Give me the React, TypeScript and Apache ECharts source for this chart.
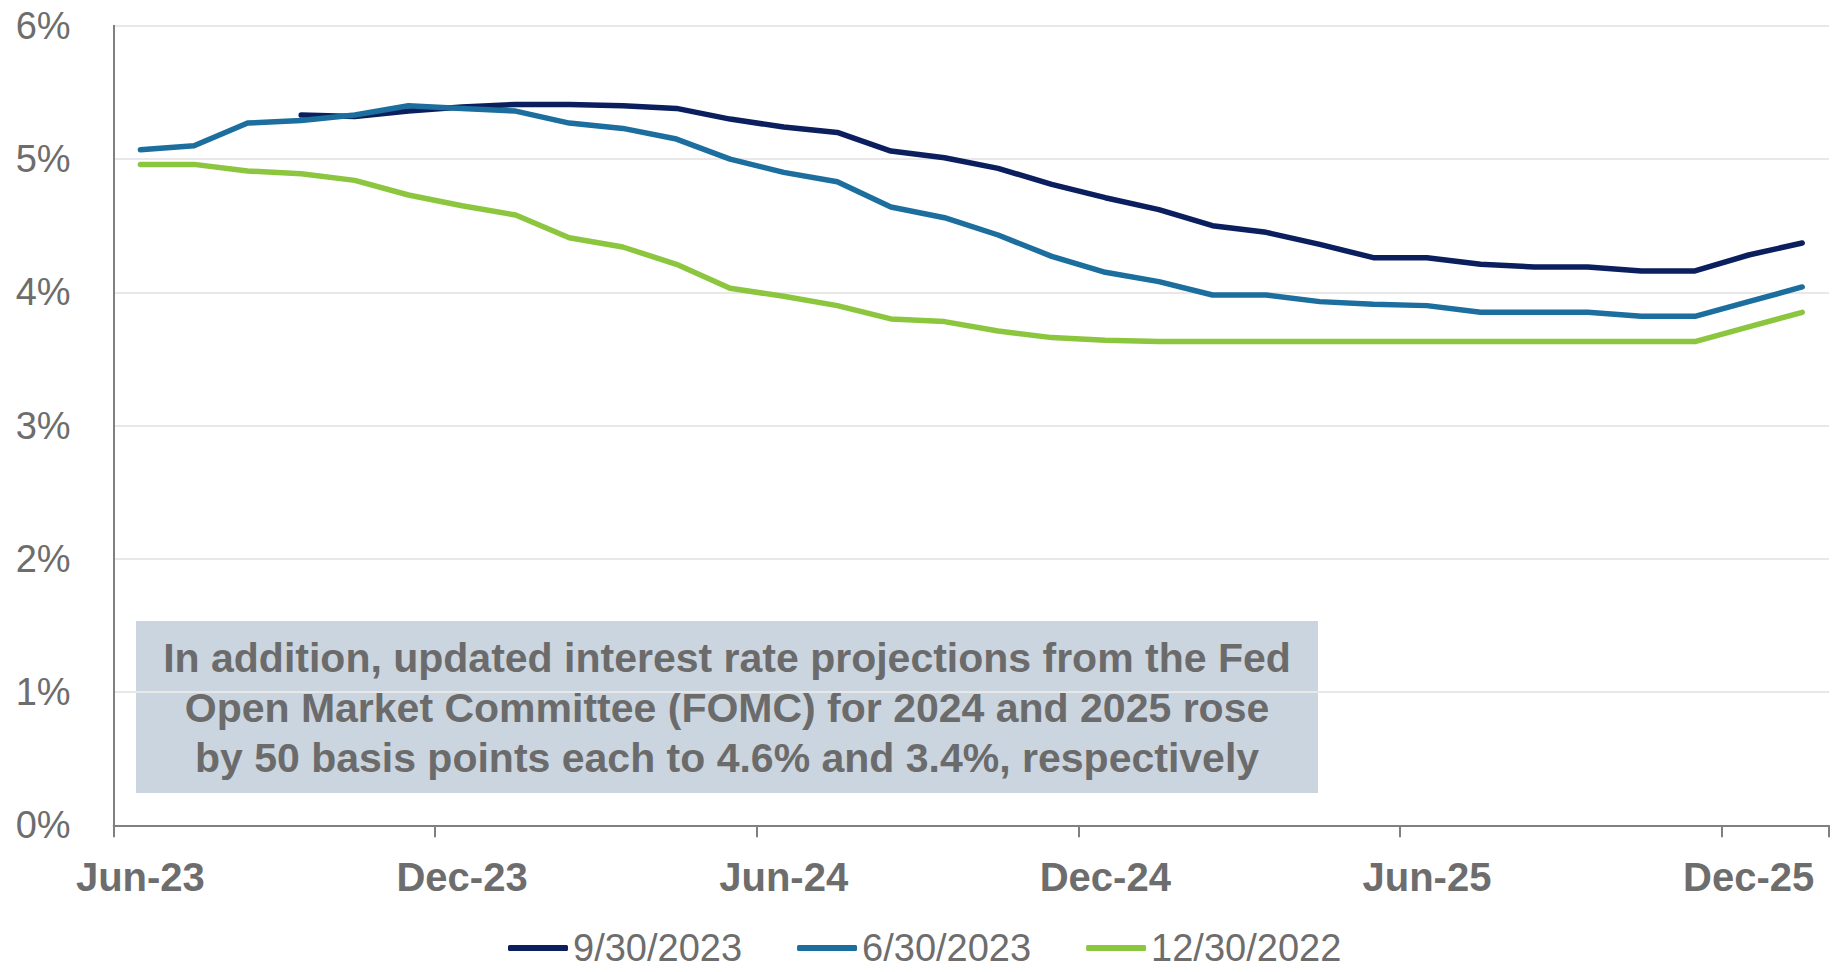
import React, { useEffect, useRef } from "react";
import * as echarts from "echarts";

const months = [
  "Jun-23", "Jul-23", "Aug-23", "Sep-23", "Oct-23", "Nov-23", "Dec-23", "Jan-24",
  "Feb-24", "Mar-24", "Apr-24", "May-24", "Jun-24", "Jul-24", "Aug-24", "Sep-24",
  "Oct-24", "Nov-24", "Dec-24", "Jan-25", "Feb-25", "Mar-25", "Apr-25", "May-25",
  "Jun-25", "Jul-25", "Aug-25", "Sep-25", "Oct-25", "Nov-25", "Dec-25", "Jan-26",
];

const seriesNames = ["9/30/2023", "6/30/2023", "12/30/2022"];

const sep2023 = [
  null, null, null, 5.33, 5.32, 5.36, 5.39, 5.41,
  5.41, 5.40, 5.38, 5.30, 5.24, 5.20, 5.06, 5.01,
  4.93, 4.81, 4.71, 4.62, 4.50, 4.45, 4.36, 4.26,
  4.26, 4.21, 4.19, 4.19, 4.16, 4.16, 4.28, 4.37,
];

const jun2023 = [
  5.07, 5.10, 5.27, 5.29, 5.33, 5.40, 5.38, 5.36,
  5.27, 5.23, 5.15, 5.00, 4.90, 4.83, 4.64, 4.56,
  4.43, 4.27, 4.15, 4.08, 3.98, 3.98, 3.93, 3.91,
  3.90, 3.85, 3.85, 3.85, 3.82, 3.82, 3.93, 4.04,
];

const dec2022 = [
  4.96, 4.96, 4.91, 4.89, 4.84, 4.73, 4.65, 4.58,
  4.41, 4.34, 4.21, 4.03, 3.97, 3.90, 3.80, 3.78,
  3.71, 3.66, 3.64, 3.63, 3.63, 3.63, 3.63, 3.63,
  3.63, 3.63, 3.63, 3.63, 3.63, 3.63, 3.74, 3.85,
];

const colors = ["#0b1f5e", "#1b6e9d", "#8cc63f"];

const noteLines = [
  "In addition, updated interest rate projections from the Fed",
  "Open Market Committee (FOMC) for 2024 and 2025 rose",
  "by 50 basis points each to 4.6% and 3.4%, respectively",
];

const FONT = "'Liberation Sans', Arial, Helvetica, sans-serif";
const TEXT_GRAY = "#6d6d6d";
const AXIS_GRAY = "#808080";

export default function App() {
  const ref = useRef<HTMLDivElement>(null);

  useEffect(() => {
    if (!ref.current) return;
    const chart = echarts.init(ref.current, undefined, { renderer: "svg" });
    const data = [sep2023, jun2023, dec2022];
    chart.setOption({
      animation: false,
      backgroundColor: "#ffffff",
      textStyle: { fontFamily: FONT },
      grid: { left: 113.6, right: 8, top: 25.8, bottom: 146.7, containLabel: false },
      xAxis: {
        type: "category",
        data: months,
        boundaryGap: true,
        axisLine: { show: true, lineStyle: { color: AXIS_GRAY, width: 2 } },
        axisTick: { show: true, interval: 5, length: 12, lineStyle: { color: AXIS_GRAY, width: 2 } },
        axisLabel: {
          interval: 5,
          fontSize: 40,
          fontWeight: "bold",
          color: TEXT_GRAY,
          fontFamily: FONT,
          margin: 32,
        },
        splitLine: { show: false },
      },
      yAxis: {
        type: "value",
        min: 0,
        max: 6,
        interval: 1,
        axisLine: { show: true, lineStyle: { color: AXIS_GRAY, width: 2 } },
        axisTick: { show: false },
        axisLabel: {
          formatter: "{value}%",
          fontSize: 38,
          color: TEXT_GRAY,
          fontFamily: FONT,
          margin: 43,
        },
        splitLine: { show: true, lineStyle: { color: "#e8e8e8", width: 2 } },
      },
      legend: {
        data: seriesNames,
        left: 503,
        top: 924,
        icon: "roundRect",
        itemWidth: 60,
        itemHeight: 6,
        itemGap: 55,
        textStyle: { fontSize: 38, lineHeight: 36, color: TEXT_GRAY, fontFamily: FONT },
      },
      series: seriesNames.map((name, i) => ({
        name,
        type: "line",
        data: data[i],
        showSymbol: false,
        symbol: "none",
        connectNulls: false,
        color: colors[i],
        lineStyle: { color: colors[i], width: 5.5, cap: "round", join: "round" },
        z: 2 + i,
      })),
      graphic: [
        {
          type: "group",
          z: 100,
          children: [
            {
              type: "rect",
              shape: { x: 136, y: 621, width: 1182, height: 172 },
              style: { fill: "#cbd5df" },
            },
            {
              type: "text",
              style: {
                text: noteLines.join("\n"),
                x: 727,
                y: 708,
                align: "center",
                verticalAlign: "middle",
                fontSize: 41,
                fontWeight: "bold",
                fontFamily: FONT,
                lineHeight: 50,
                fill: "#6b6b6b",
              },
            },
          ],
        },
      ],
    });
    return () => chart.dispose();
  }, []);

  return (
    <div
      ref={ref}
      style={{ position: "fixed", left: 0, top: 0, width: 1837, height: 972 }}
    />
  );
}
